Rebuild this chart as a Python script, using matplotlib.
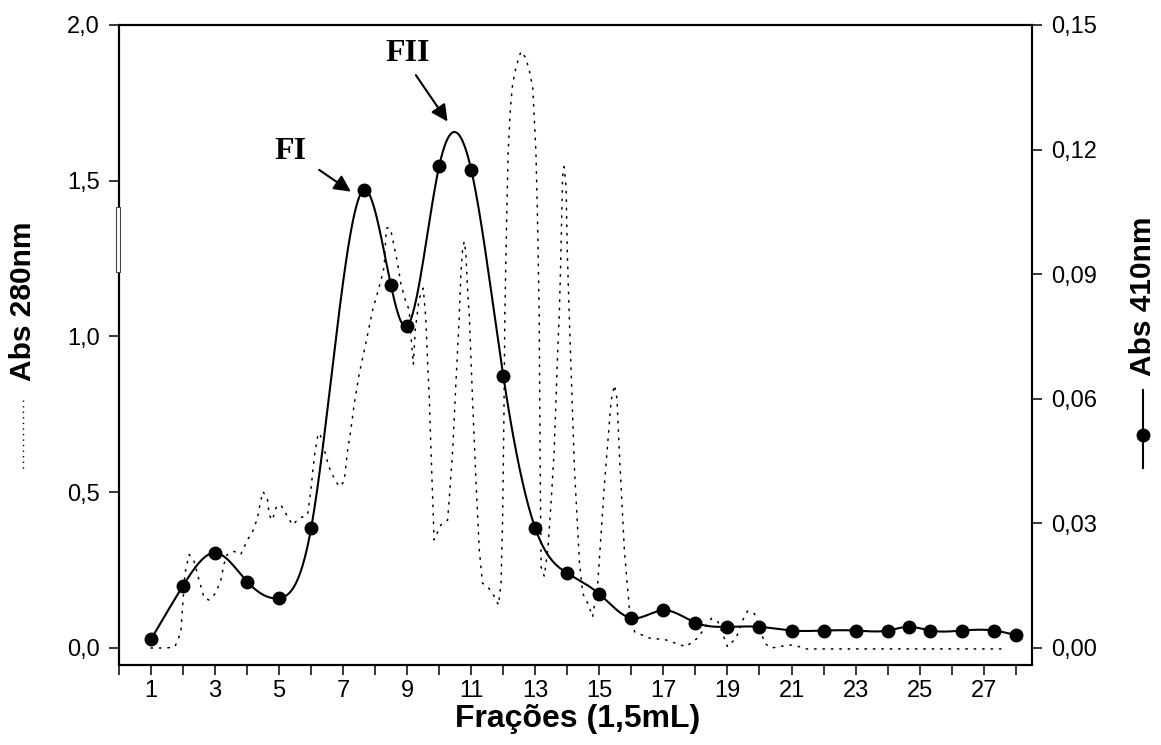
import numpy as np
import matplotlib
matplotlib.use("Agg")
import matplotlib.pyplot as plt
from matplotlib.lines import Line2D
from matplotlib.patches import Rectangle

# ---------------- data ----------------
# Abs 410nm (solid line with markers, right axis)
frac410 = [1, 2, 3, 4, 5, 6, 7.66, 8.49, 8.99, 10, 11, 12, 13, 14, 15, 16, 17, 18,
           19, 20, 21, 22, 23, 24, 24.67, 25.33, 26.33, 27.33, 28]
abs410 = [0.0021, 0.0150, 0.0229, 0.0160, 0.0120, 0.0289, 0.1103, 0.0874, 0.0775,
          0.1161, 0.1151, 0.0655, 0.0288, 0.0180, 0.0130, 0.0072, 0.0091, 0.0061,
          0.0051, 0.0051, 0.0042, 0.0042, 0.0042, 0.0042, 0.0051, 0.0042, 0.0042,
          0.0042, 0.0031]

# Abs 280nm (dotted line, left axis)
frac280 = [1.0, 1.5, 1.75, 1.93, 2.0, 2.06, 2.19, 2.34, 2.5, 2.66, 2.81, 3.02, 3.18,
           3.28, 3.38, 3.6, 3.8, 4.01, 4.17, 4.32, 4.43, 4.5, 4.64, 4.69, 4.79, 4.9,
           5.05, 5.16, 5.42, 5.63, 5.89, 5.99, 6.1, 6.2, 6.27, 6.4, 6.56, 6.72, 6.875,
           7.03, 7.14, 7.24, 7.34, 7.5, 7.71, 7.92, 8.07, 8.18, 8.28, 8.31, 8.35, 8.42,
           8.49, 8.59, 8.7, 8.8, 8.94, 9.06, 9.12, 9.19, 9.25, 9.37, 9.5, 9.58, 9.64,
           9.69, 9.74, 9.84, 10.05, 10.26, 10.31, 10.42, 10.52, 10.62, 10.68, 10.73,
           10.78, 10.83, 10.88, 10.94, 11.04, 11.15, 11.25, 11.35, 11.51, 11.67, 11.85,
           11.93, 11.98, 12.02, 12.05, 12.1, 12.15, 12.22, 12.29, 12.4, 12.55, 12.7,
           12.81, 12.92, 12.97, 13.02, 13.07, 13.12, 13.15, 13.18, 13.28, 13.39, 13.5,
           13.59, 13.7, 13.75, 13.8, 13.85, 13.9, 13.96, 14.0, 14.06, 14.22, 14.375,
           14.48, 14.64, 14.79, 14.95, 15.16, 15.37, 15.47, 15.55, 15.62, 15.78, 15.94,
           16.1, 16.56, 17.08, 17.7, 18.07, 18.5, 18.7, 18.9, 19.0, 19.27, 19.48, 19.63,
           19.84, 20.0, 20.16, 20.37, 20.94, 21.25, 21.46, 27.6]
abs280 = [0.0, 0.0, 0.005, 0.05, 0.154, 0.24, 0.30, 0.28, 0.218, 0.16, 0.154, 0.176,
          0.218, 0.27, 0.30, 0.31, 0.30, 0.347, 0.373, 0.416, 0.475, 0.502, 0.475,
          0.427, 0.41, 0.45, 0.46, 0.44, 0.395, 0.417, 0.427, 0.507, 0.614, 0.678,
          0.69, 0.64, 0.58, 0.545, 0.518, 0.534, 0.636, 0.70, 0.78, 0.88, 0.98, 1.085,
          1.14, 1.18, 1.224, 1.28, 1.347, 1.35, 1.34, 1.29, 1.235, 1.17, 1.117, 1.085,
          1.0, 0.91, 1.02, 1.12, 1.155, 1.06, 0.91, 0.80, 0.64, 0.347, 0.395, 0.41,
          0.475, 0.636, 0.85, 1.053, 1.21, 1.28, 1.305, 1.267, 1.16, 1.063, 0.796,
          0.53, 0.315, 0.208, 0.197, 0.175, 0.138, 0.21, 0.42, 0.75, 1.08, 1.35, 1.59,
          1.73, 1.81, 1.866, 1.915, 1.895, 1.855, 1.80, 1.695, 1.59, 1.37, 1.075, 0.6,
          0.26, 0.23, 0.315, 0.48, 0.636, 0.957, 1.075, 1.267, 1.513, 1.545, 1.48,
          1.267, 1.063, 0.58, 0.28, 0.175, 0.143, 0.10, 0.208, 0.53, 0.796, 0.844,
          0.80, 0.636, 0.315, 0.122, 0.052, 0.032, 0.026, 0.004, 0.032, 0.095, 0.085,
          0.032, 0.004, 0.032, 0.09, 0.119, 0.11, 0.068, 0.015, 0.0, 0.01, 0.004,
          -0.003, -0.003]

left_ticks = [0.0, 0.5, 1.0, 1.5, 2.0]
left_labels = ["0,0", "0,5", "1,0", "1,5", "2,0"]
right_ticks = [0.00, 0.03, 0.06, 0.09, 0.12, 0.15]
right_labels = ["0,00", "0,03", "0,06", "0,09", "0,12", "0,15"]
x_ticks = list(range(0, 29))
x_labels = [str(i) if i % 2 == 1 else "" for i in x_ticks]


def natural_cubic(x, y, xs):
    x = np.asarray(x, float)
    y = np.asarray(y, float)
    n = len(x)
    h = np.diff(x)
    A = np.zeros((n, n))
    r = np.zeros(n)
    A[0, 0] = 1
    A[-1, -1] = 1
    for i in range(1, n - 1):
        A[i, i - 1] = h[i - 1]
        A[i, i] = 2 * (h[i - 1] + h[i])
        A[i, i + 1] = h[i]
        r[i] = 3 * ((y[i + 1] - y[i]) / h[i] - (y[i] - y[i - 1]) / h[i - 1])
    c = np.linalg.solve(A, r)
    b = (y[1:] - y[:-1]) / h - h * (2 * c[:-1] + c[1:]) / 3
    d = (c[1:] - c[:-1]) / (3 * h)
    idx = np.clip(np.searchsorted(x, xs) - 1, 0, n - 2)
    dx = xs - x[idx]
    return y[idx] + b[idx] * dx + c[idx] * dx ** 2 + d[idx] * dx ** 3


plt.rcParams['font.family'] = ['Liberation Sans', 'DejaVu Sans']

W, H = 1161, 745
fig = plt.figure(figsize=(W / 100, H / 100), dpi=100)
fig.patch.set_facecolor('white')

ax_l, ax_r, ax_t, ax_b = 119, 1031.7, 25, 664.5
ax = fig.add_axes([ax_l / W, 1 - ax_b / H, (ax_r - ax_l) / W, (ax_b - ax_t) / H])
ax2 = ax.twinx()

ylo = -0.053
ax.set_xlim(0, 28.5)
ax.set_ylim(ylo, 2.0)
ax2.set_ylim(ylo * 0.075, 0.15)

# dotted Abs 280
ax.plot(frac280, abs280, color='black', lw=1.1, linestyle=(0, (1, 4.5)),
        dash_capstyle='round', zorder=2)

# solid Abs 410 (spline through points)
xs = np.linspace(frac410[0], frac410[-1], 1500)
ys = natural_cubic(frac410, abs410, xs)
ax2.plot(xs, ys, color='black', lw=1.5, zorder=3)
ax2.plot(frac410, abs410, 'o', color='black', ms=9, zorder=4)

# ticks
ax.set_xticks(x_ticks)
ax.set_xticklabels(x_labels)
ax.set_yticks(left_ticks)
ax.set_yticklabels(left_labels)
ax2.set_yticks(right_ticks)
ax2.set_yticklabels(right_labels)
for a in (ax, ax2):
    a.tick_params(direction='out', length=7, width=1.1, labelsize=17, pad=7)
    for s in a.spines.values():
        s.set_linewidth(1.5)
ax.tick_params(axis='x', pad=4)

# annotations
ax.annotate('', xy=(7.24, 1.465), xytext=(6.25, 1.535),
            arrowprops=dict(arrowstyle='-|>', mutation_scale=25, lw=1.5, color='black',
                            shrinkA=0, shrinkB=0))
ax.annotate('', xy=(10.26, 1.69), xytext=(9.27, 1.839),
            arrowprops=dict(arrowstyle='-|>', mutation_scale=25, lw=1.5, color='black',
                            shrinkA=0, shrinkB=0))
ax.text(5.34, 1.593, 'FI', family='Liberation Serif', fontweight='bold', fontsize=23,
        ha='center', va='center')
ax.text(9.0, 1.91, 'FII', family='Liberation Serif', fontweight='bold', fontsize=23,
        ha='center', va='center')

# axis labels
fig.text(578 / W, 1 - 727 / H, 'Frações (1,5mL)', fontsize=23, fontweight='bold',
         ha='center', va='baseline')
fig.text(23 / W, 1 - 301 / H, 'Abs 280nm', fontsize=21.5, fontweight='bold',
         ha='center', va='center', rotation=90)
fig.text(1143 / W, 1 - 296 / H, 'Abs 410nm', fontsize=21.5, fontweight='bold',
         ha='center', va='center', rotation=90)

# legend samples
fig.add_artist(Line2D([22.7 / W, 22.7 / W], [1 - 400 / H, 1 - 470 / H],
                      transform=fig.transFigure, color='black', lw=1.0,
                      linestyle=(0, (1, 3))))
fig.add_artist(Line2D([1143 / W, 1143 / W], [1 - 390 / H, 1 - 468 / H],
                      transform=fig.transFigure, color='black', lw=1.5))
fig.add_artist(Line2D([1143 / W], [1 - 435 / H], transform=fig.transFigure,
                      marker='o', color='black', ms=9, linestyle='none'))

# small rectangle artifact on left spine
fig.add_artist(Rectangle((116 / W, 1 - 272 / H), 3.5 / W, 65 / H,
                         transform=fig.transFigure, facecolor='white',
                         edgecolor='#444444', lw=0.8))

fig.savefig('out.png', dpi=100)
